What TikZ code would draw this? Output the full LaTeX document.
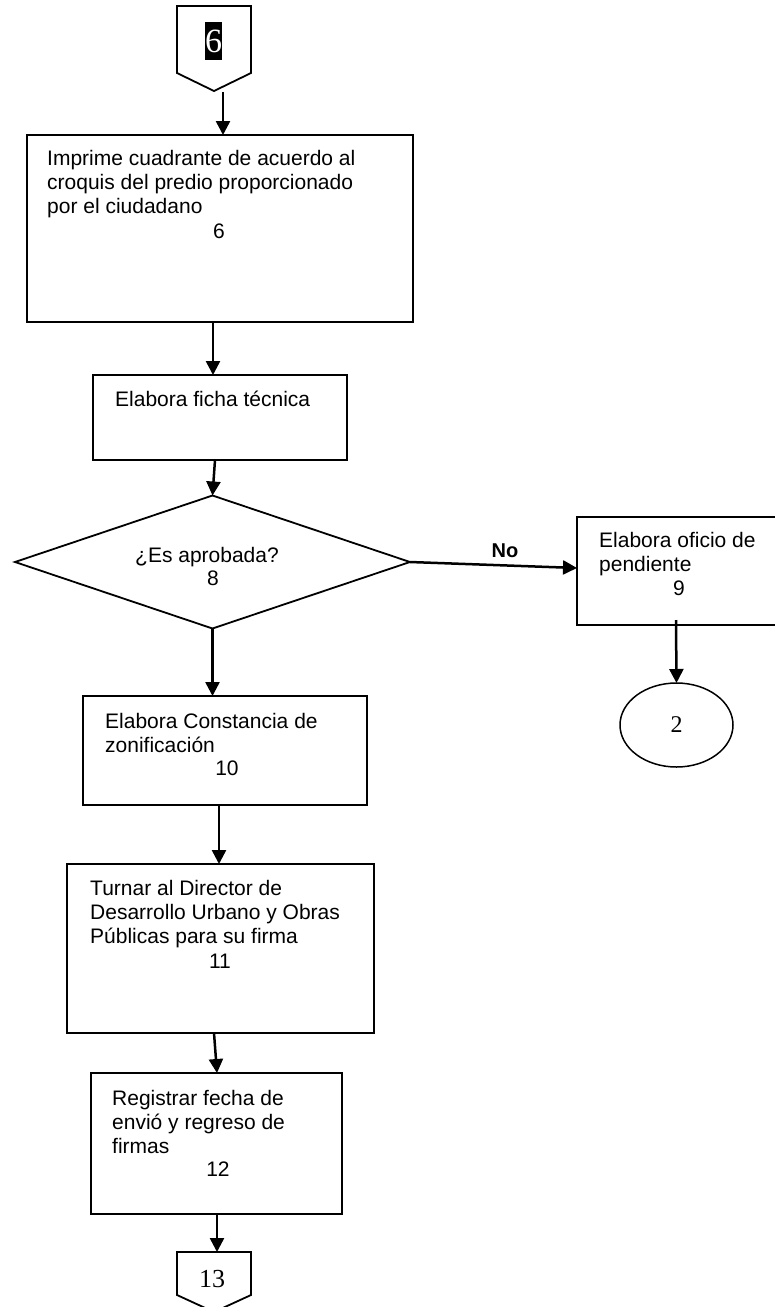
\documentclass[tikz,border=0pt]{standalone}
\usepackage{fontspec}
\setmainfont{Liberation Sans}
\newfontfamily\digitfont{Liberation Serif}
\usetikzlibrary{arrows.meta,shapes.geometric}

\begin{document}
\begin{tikzpicture}[x=1pt,y=-1pt,
  box/.style={draw, line width=1.8pt, inner sep=0pt, outer sep=0pt},
  flow/.style={line width=2.5pt, -{Triangle[length=14pt,width=14pt]}},
  txt/.style={inner sep=0pt, anchor=base west, align=left, font=\fontsize{21}{24.3}\selectfont},
  num/.style={inner sep=0pt, anchor=base, font=\fontsize{21}{24.3}\selectfont},
  conn/.style={draw, line width=1.8pt, line join=miter},
]
\useasboundingbox (0,0) rectangle (775,1307);

% off-page connector at the top
\draw[conn] (177,6) -- (251,6) -- (251,73) -- (214,91) -- (177,73) -- cycle;
\node[fill=black, text=white, inner sep=0pt, minimum width=17pt, minimum height=38pt,
      font=\digitfont\fontsize{34}{38}\selectfont] (p6) at (213.5,41) {6};
\coordinate (a0) at (223,92);

% process boxes
\node[box, minimum width=386pt, minimum height=187pt] (b1) at (220,228.5) {};
\node[box, minimum width=254pt, minimum height=85pt] (b2) at (220,417.5) {};
\node[box, shape=diamond, minimum width=395pt, minimum height=133pt] (dia) at (212.5,562) {};
\node[box, minimum width=213pt, minimum height=108pt] (b9) at (683.5,571) {};
\node[box, shape=ellipse, minimum width=113pt, minimum height=84pt, line width=1.5pt] (e2) at (676.5,725) {};
\node[box, minimum width=284pt, minimum height=109pt] (b10) at (225,750.5) {};
\node[box, minimum width=307pt, minimum height=169pt] (b11) at (220.5,948.5) {};
\node[box, minimum width=251pt, minimum height=141pt] (b12) at (216.5,1143.5) {};

% off-page connector at the bottom
\draw[conn] (177,1252) -- (251,1252) -- (251,1295) -- (214,1312) -- (177,1295) -- cycle;
\coordinate (p13n) at (217,1252);
\node[inner sep=0pt, anchor=base, font=\digitfont\fontsize{26}{30}\selectfont] (p13) at (212,1287) {13};

% texts (multi-line nodes are placed by the baseline of their last line)
\node[txt] (t1) at (47,213.6) {Imprime cuadrante de acuerdo al\\croquis del predio proporcionado\\por el ciudadano};
\node[num] (n1) at (219,238) {6};
\node[txt] (t2) at (115,406) {Elabora ficha técnica};
\node[num] (t8) at (207,562) {¿Es aprobada?};
\node[num] (n8) at (213,585) {8};
\node[txt] (t9) at (599,571.3) {Elabora oficio de\\pendiente};
\node[num] (n9) at (679,595) {9};
\node[inner sep=0pt, font=\digitfont\fontsize{24}{28}\selectfont] (n2) at (e2.center) {2};
\node[txt] (t10) at (105,752.3) {Elabora Constancia de\\zonificación};
\node[num] (n10) at (227,775) {10};
\node[txt] (t11) at (90,943.6) {Turnar al Director de\\Desarrollo Urbano y Obras\\Públicas para su firma};
\node[num] (n11) at (220,968) {11};
\node[txt] (t12) at (112,1153.6) {Registrar fecha de\\envió y regreso de\\firmas};
\node[num] (n12) at (218,1176) {12};
\node[inner sep=0pt, anchor=base, font=\bfseries\fontsize{20}{24}\selectfont] (no) at (505,557) {No};

% connectors
\draw[flow] (a0) -- (a0 |- b1.north);
\draw[flow] ([xshift=-7pt]b1.south) -- ([xshift=-7pt]b2.north);
\draw[flow] ([xshift=-5pt]b2.south) -- (dia.north);
\draw[flow] (dia.east) -- ([yshift=3pt]b9.west);
\draw[flow] ([xshift=-7.5pt,yshift=5pt]b9.south) -- (e2.north);
\draw[flow] (dia.south) -- (dia.south |- b10.north);
\draw[flow] ([xshift=-6pt]b10.south) -- ([xshift=-6pt]b10.south |- b11.north);
\draw[flow] ([xshift=-6.5pt]b11.south) -- ([xshift=0.5pt]b12.north);
\draw[flow] ([xshift=0.5pt]b12.south) -- (p13n);
\end{tikzpicture}
\end{document}
